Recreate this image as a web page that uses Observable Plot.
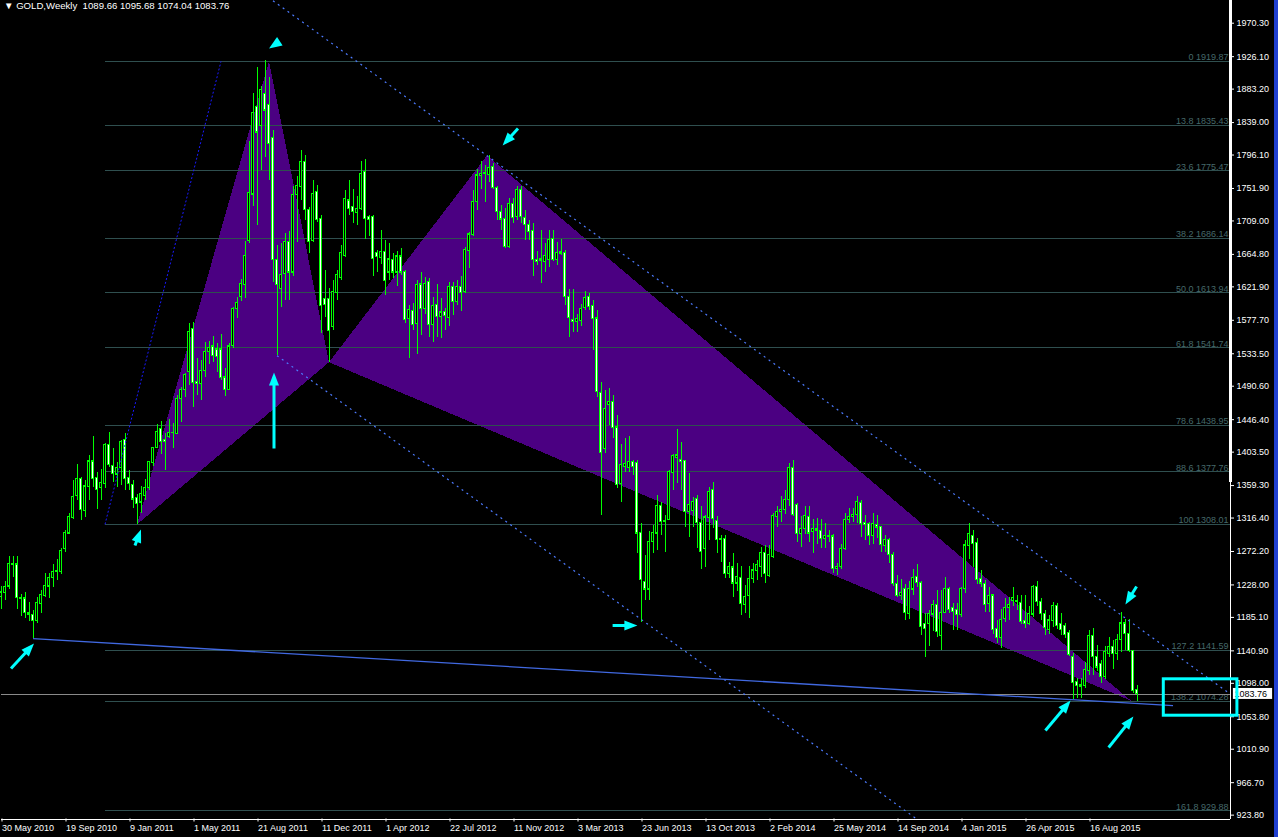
<!DOCTYPE html>
<html><head><meta charset="utf-8">
<script src="https://cdn.jsdelivr.net/npm/d3@7"></script>
<script src="https://cdn.jsdelivr.net/npm/@observablehq/plot@0.6"></script>
<style>
html,body{margin:0;padding:0;background:#000;overflow:hidden}
#wrap{width:1274px;height:837px;border-right:4px solid #1f3fd0;}
</style></head><body><div id="wrap"></div>
<script>
// ---------- data ----------
const startDate = "2010-05-30"; // bar 0 (weekly bars)
const opens = [
1212,1218,1226,1256,1255,1211,1210,1191,1188,1181,
1203,1214,1226,1237,1245,1245,1276,1296,1316,1346,
1368,1326,1358,1391,1369,1356,1362,1413,1385,1374,
1383,1419,1369,1360,1343,1337,1346,1356,1389,1409,
1434,1420,1423,1429,1428,1474,1486,1510,1566,1496,
1494,1511,1536,1543,1539,1539,1502,1486,1544,1593,
1608,1625,1682,1744,1860,1835,1877,1862,1818,1657,
1619,1639,1681,1641,1743,1754,1787,1723,1683,1747,
1712,1606,1606,1569,1614,1634,1663,1736,1727,1720,
1725,1774,1714,1714,1666,1660,1668,1641,1657,1641,
1662,1641,1580,1590,1573,1625,1593,1628,1571,1598,
1582,1589,1581,1622,1602,1622,1615,1669,1691,1734,
1769,1771,1770,1780,1753,1721,1712,1675,1731,1714,
1750,1713,1704,1696,1657,1658,1655,1657,1685,1658,
1668,1666,1609,1578,1576,1577,1594,1608,1597,1580,
1481,1408,1466,1470,1436,1361,1384,1382,1390,1389,
1296,1232,1222,1285,1296,1332,1313,1314,1376,1396,
1393,1392,1324,1326,1342,1310,1276,1317,1353,1313,
1289,1289,1243,1251,1230,1237,1201,1214,1236,1247,
1252,1270,1240,1265,1318,1324,1327,1340,1382,1333,
1295,1302,1318,1298,1300,1299,1289,1293,1292,1249,
1252,1276,1314,1318,1320,1336,1310,1309,1293,1307,
1304,1280,1287,1268,1229,1214,1222,1190,1222,1238,
1230,1176,1177,1189,1201,1160,1191,1222,1197,1195,
1188,1223,1280,1293,1283,1236,1229,1203,1214,1170,
1158,1183,1197,1207,1207,1204,1180,1177,1189,1225,
1205,1190,1168,1181,1200,1176,1174,1164,1133,1100,
1095,1094,1114,1161,1133,1123,1106,1137,1146,1137,
1155,1177,1163,1141,1089.66];
const highs = [
1226,1232,1265,1266,1265,1216,1218,1205,1194,1212,
1221,1243,1243,1255,1262,1276,1300,1322,1366,1387,
1370,1366,1399,1424,1377,1381,1415,1430,1408,1390,
1419,1428,1379,1366,1348,1358,1367,1391,1410,1440,
1444,1428,1447,1441,1478,1489,1508,1573,1575,1527,
1525,1549,1550,1556,1547,1559,1514,1547,1595,1608,
1631,1682,1814,1877,1912,1886,1921,1899,1828,1677,
1679,1692,1695,1754,1768,1802,1795,1727,1762,1756,
1716,1644,1620,1630,1644,1677,1749,1762,1751,1741,
1787,1790,1716,1716,1670,1696,1683,1679,1666,1668,
1672,1644,1597,1600,1630,1641,1634,1633,1608,1625,
1606,1593,1628,1628,1630,1635,1674,1694,1749,1777,
1787,1782,1796,1785,1754,1729,1726,1738,1738,1754,
1755,1723,1710,1705,1668,1696,1679,1696,1697,1681,
1684,1670,1619,1619,1586,1598,1616,1613,1604,1591,
1496,1485,1488,1478,1452,1414,1421,1424,1393,1393,
1309,1267,1298,1307,1346,1337,1320,1379,1401,1433,
1416,1393,1375,1344,1346,1331,1320,1357,1364,1318,
1293,1293,1258,1269,1256,1252,1227,1252,1256,1260,
1278,1280,1280,1322,1331,1345,1353,1388,1393,1335,
1318,1331,1331,1315,1316,1315,1309,1300,1295,1256,
1282,1322,1329,1329,1345,1340,1320,1311,1322,1320,
1304,1293,1289,1271,1240,1235,1229,1232,1249,1255,
1232,1190,1194,1208,1221,1221,1238,1224,1203,1203,
1225,1287,1309,1300,1289,1247,1234,1225,1216,1181,
1196,1210,1212,1224,1214,1214,1214,1199,1227,1233,
1210,1194,1188,1205,1203,1190,1177,1168,1137,1104,
1104,1126,1168,1170,1148,1128,1146,1158,1154,1163,
1191,1182,1182,1142,1095.68];
const lows = [
1196,1207,1222,1238,1196,1186,1184,1180,1157,1177,
1190,1211,1210,1225,1234,1242,1271,1295,1315,1340,
1313,1317,1340,1357,1328,1340,1356,1383,1364,1357,
1359,1353,1353,1329,1308,1322,1340,1353,1384,1408,
1401,1379,1421,1408,1428,1443,1476,1492,1462,1478,
1472,1502,1519,1522,1509,1498,1477,1485,1540,1580,
1602,1606,1679,1728,1703,1776,1793,1762,1628,1531,
1595,1604,1604,1635,1681,1736,1710,1666,1681,1707,
1560,1582,1522,1564,1604,1630,1661,1716,1705,1703,
1723,1685,1688,1635,1641,1652,1611,1630,1633,1622,
1637,1573,1527,1564,1533,1558,1585,1555,1549,1555,
1553,1564,1569,1584,1597,1589,1613,1646,1688,1723,
1751,1734,1760,1750,1710,1696,1672,1672,1706,1710,
1705,1683,1683,1635,1650,1626,1641,1648,1655,1650,
1663,1597,1555,1562,1561,1570,1590,1590,1538,1476,
1320,1402,1439,1422,1355,1337,1377,1377,1372,1269,
1179,1208,1208,1269,1274,1293,1271,1313,1353,1362,
1353,1304,1291,1304,1276,1249,1251,1287,1302,1269,
1258,1236,1236,1212,1219,1188,1190,1183,1230,1234,
1238,1230,1238,1263,1304,1311,1321,1331,1318,1284,
1278,1295,1284,1269,1281,1276,1276,1284,1243,1240,
1249,1273,1309,1310,1309,1291,1287,1280,1282,1289,
1271,1271,1256,1226,1212,1207,1181,1182,1214,1225,
1161,1132,1146,1166,1159,1141,1190,1190,1168,1168,
1185,1217,1262,1251,1229,1225,1192,1192,1163,1150,
1144,1179,1181,1199,1194,1176,1170,1174,1185,1199,
1181,1161,1163,1172,1169,1161,1157,1133,1076,1078,
1078,1091,1108,1108,1113,1098,1103,1132,1116,1128,
1139,1141,1139,1084,1074.04];
const closes = [
1218,1225,1256,1255,1211,1210,1191,1189,1181,1204,
1215,1227,1237,1245,1246,1273,1296,1318,1344,1368,
1327,1358,1391,1368,1353,1363,1413,1386,1375,1383,
1417,1368,1362,1341,1335,1348,1356,1390,1409,1430,
1417,1417,1429,1429,1474,1486,1505,1562,1495,1494,
1511,1536,1541,1531,1529,1502,1486,1543,1593,1600,
1626,1663,1746,1851,1826,1882,1855,1811,1657,1624,
1637,1681,1641,1743,1755,1787,1723,1681,1745,1710,
1597,1598,1564,1615,1637,1666,1738,1725,1721,1725,
1771,1712,1710,1659,1662,1668,1630,1658,1641,1662,
1641,1578,1591,1572,1624,1593,1626,1571,1597,1582,
1588,1583,1622,1602,1622,1614,1670,1691,1734,1769,
1771,1772,1779,1753,1721,1711,1675,1731,1713,1750,
1714,1704,1694,1657,1655,1656,1663,1684,1658,1666,
1666,1609,1581,1575,1579,1592,1607,1595,1580,1483,
1402,1461,1470,1436,1360,1386,1388,1390,1384,1296,
1234,1222,1285,1296,1332,1311,1311,1377,1398,1399,
1390,1324,1333,1337,1310,1271,1317,1351,1315,1288,
1288,1243,1252,1230,1238,1203,1212,1236,1247,1254,
1270,1243,1267,1319,1324,1327,1340,1382,1320,1295,
1302,1319,1296,1302,1302,1289,1293,1292,1249,1252,
1276,1314,1318,1320,1337,1309,1307,1293,1309,1304,
1281,1287,1268,1229,1214,1217,1191,1223,1237,1231,
1173,1170,1189,1201,1166,1191,1222,1195,1192,1188,
1223,1280,1295,1282,1234,1230,1202,1213,1168,1158,
1182,1198,1202,1211,1205,1179,1177,1189,1225,1205,
1190,1171,1181,1200,1174,1168,1162,1135,1098,1095,
1093,1115,1161,1133,1119,1107,1139,1146,1137,1155,
1177,1163,1141,1088,1083.76];

const tickLabels = ["30 May 2010","19 Sep 2010","9 Jan 2011","1 May 2011","21 Aug 2011","11 Dec 2011",
"1 Apr 2012","22 Jul 2012","11 Nov 2012","3 Mar 2013","23 Jun 2013","13 Oct 2013","2 Feb 2014",
"25 May 2014","14 Sep 2014","4 Jan 2015","26 Apr 2015","16 Aug 2015"];
const priceTicks = [1970.30,1926.10,1883.20,1839.00,1796.10,1751.90,1709.00,1664.80,1621.90,1577.70,
1533.50,1490.60,1446.40,1403.50,1359.30,1316.40,1272.20,1228.00,1185.10,1140.90,1098.00,1053.80,
1010.90,966.70,923.80];

const fibRatios = ["0","13.8","23.6","38.2","50.0","61.8","78.6","88.6","100","127.2","138.2","161.8"];
const fibPrices = [1919.87,1835.43,1775.47,1686.14,1613.94,1541.74,1438.95,1377.76,1308.01,1141.59,1074.28,929.88];
const fibStartBar = 26;
const fibAnchorBars = [26, 55];
const fibAnchorPrices = [1308.01, 1919.87];

// harmonic pattern X A B C D
const patternBars = [34, 67, 82, 121.5, 282.5];
const patternPrices = [1308.01, 1919.87, 1522.3, 1795.5, 1075];

const upperChannelBars = [68, 307];
const upperChannelPrices = [2000, 1085];
const lowerChannelBars = [69, 229];
const lowerChannelPrices = [1531, 918.4];
const supportBars = [8, 293];
const supportPrices = [1157, 1068.5];
const bidPrice = 1083.76;

const arrowFromBar   = [2.5, 33.5, 70.75, 129.25, 68.25, 152.9, 261.1, 276.9, 283.9];
const arrowFromPrice = [1117.6, 1280.2, 1950.1, 1831.2, 1408.3, 1174.4, 1035.7, 1013.2, 1226.0];
const arrowToBar     = [8.25, 35, 67, 125.4, 68.25, 159.1, 267.4, 283.1, 281.1];
const arrowToPrice   = [1150.6, 1301.3, 1936.9, 1808.7, 1508.7, 1174.4, 1075.3, 1054.2, 1202.2];
const arrowHasShaft  = [true, true, false, true, true, true, true, true, true];

const boxBars = [290.7, 309.1];
const boxPrices = [1055.2, 1103.3];
const bidBoxBars = [308.1, 317.9];
const bidBoxPrices = [1076.7, 1091.2];
const titleText = "\u25BC GOLD,Weekly  1089.66 1095.68 1074.04 1083.76";

// ---------- build ----------
const W = 1274, H = 837, mL = 0.5, mR = 44, mT = 0, mB = 18.5;
const xDomain = [0, 307.375];
const yDomain = [918.7, 2000.3];
const parse = d3.utcParse("%d %b %Y");
const t0 = d3.utcParse("%Y-%m-%d")(startDate);
const ticks = tickLabels.map(s => ({bar: Math.round((parse(s) - t0) / (7 * 864e5)), label: s}));
const labelByBar = new Map(ticks.map(d => [d.bar, d.label]));

const bars = opens.map((o, i) => ({i, o, h: highs[i], l: lows[i], c: closes[i]}));
const fibs = fibPrices.map((p, k) => ({price: p, ratio: fibRatios[k]}));
const pt = k => ({bar: patternBars[k], price: patternPrices[k]});
const triRows = [
  ...[0,1,2].map(k => ({tri: 1, ...pt(k)})),
  ...[2,3,4].map(k => ({tri: 2, ...pt(k)}))
];

const xs = Plot.scale({x: {domain: xDomain, range: [mL, W - mR]}});
const ys = Plot.scale({y: {domain: yDomain, range: [H - mB, mT]}});
const HEAD = 13;
const arrows = arrowFromBar.map((fb, k) => {
  const fp = arrowFromPrice[k], tb = arrowToBar[k], tp = arrowToPrice[k];
  const dx = xs.apply(tb) - xs.apply(fb), dy = ys.apply(tp) - ys.apply(fp);
  const len = Math.hypot(dx, dy);
  const f = Math.max(0, (len - HEAD * 0.7) / len);
  return {fb, fp, tb, tp, nb: fb + f * (tb - fb), np: fp + f * (tp - fp),
          angle: Math.atan2(dx, -dy) * 180 / Math.PI, shaft: arrowHasShaft[k]};
});
const headSymbol = {draw(ctx) { ctx.moveTo(0, 0); ctx.lineTo(5, HEAD); ctx.lineTo(-5, HEAD); ctx.closePath(); }};

const seg = (b, p) => [{x1: b[0], y1: p[0], x2: b[1], y2: p[1]}];
const LIME = "#00ff00", CYAN = "#00ffff";
const bodyLo = d => Math.min(d.o, d.c), bodyHi = d => Math.max(d.o, d.c);

const chart = Plot.plot({
  width: W, height: H,
  marginLeft: mL, marginRight: mR, marginTop: mT, marginBottom: mB,
  x: {domain: xDomain, axis: null},
  y: {domain: yDomain, axis: null},
  color: {type: "identity"},
  style: {background: "#000", color: "#fff", fontFamily: "'Liberation Sans', Arial, sans-serif", fontSize: "9px", overflow: "visible"},
  marks: [
    Plot.line(triRows, {x: "bar", y: "price", z: "tri", fill: "#4b0082", stroke: "none", shapeRendering: "crispEdges"}),
    Plot.ruleY(fibs, {y: "price", x1: fibStartBar, x2: xDomain[1], stroke: "#2f4f4f", shapeRendering: "crispEdges"}),
    Plot.text(fibs, {x: xDomain[1], y: "price", text: d => `${d.ratio} ${d.price.toFixed(2)}`, textAnchor: "end", lineAnchor: "bottom", dx: -2, dy: -1, fill: "#46696a", fontSize: 9}),
    Plot.ruleY([bidPrice], {stroke: "#8a8a8a", shapeRendering: "crispEdges"}),
    // candles: wick, lime outer body, inner fill (white = bear, black = bull)
    Plot.ruleX(bars, {x: "i", y1: "l", y2: "h", stroke: LIME, strokeWidth: 1, shapeRendering: "crispEdges"}),
    Plot.rect(bars, {x1: d => d.i - 0.375, x2: d => d.i + 0.375, y1: bodyLo, y2: bodyHi,
      insetTop: -0.6, insetBottom: -0.6, fill: LIME, shapeRendering: "crispEdges"}),
    Plot.rect(bars, {x1: d => d.i - 0.125, x2: d => d.i + 0.125, y1: bodyLo, y2: bodyHi,
      insetTop: 0.5, insetBottom: 0.5,
      fill: d => d.c >= d.o ? "#000000" : "#ffffff", shapeRendering: "crispEdges"}),
    Plot.link(seg(fibAnchorBars, fibAnchorPrices), {x1: "x1", y1: "y1", x2: "x2", y2: "y2", stroke: "#1a1aff", strokeDasharray: "2 2"}),
    Plot.link(seg(upperChannelBars, upperChannelPrices), {x1: "x1", y1: "y1", x2: "x2", y2: "y2", stroke: "#4d7bff", strokeWidth: 1.2, strokeDasharray: "2 4"}),
    Plot.link(seg(lowerChannelBars, lowerChannelPrices), {x1: "x1", y1: "y1", x2: "x2", y2: "y2", stroke: "#4d7bff", strokeWidth: 1.2, strokeDasharray: "2 4"}),
    Plot.link(seg(supportBars, supportPrices), {x1: "x1", y1: "y1", x2: "x2", y2: "y2", stroke: "#4169e1", strokeWidth: 1.3}),
    Plot.ruleY([yDomain[0]], {stroke: "#fff", shapeRendering: "crispEdges"}),
    Plot.ruleX([xDomain[1]], {stroke: "#fff", shapeRendering: "crispEdges"}),
    Plot.ruleX([xDomain[1]], {y1: 1363.4, y2: yDomain[1], stroke: "#fff", strokeWidth: 3}),
    Plot.axisX(ticks.map(d => d.bar), {anchor: "bottom", tickFormat: d => labelByBar.get(d), textAnchor: "start", dx: 1, tickSize: 3, tickPadding: 3, color: "#fff", fontSize: 9, label: null}),
    Plot.axisY(priceTicks, {anchor: "right", tickFormat: d => d.toFixed(2), tickSize: 3, tickPadding: 3, color: "#fff", fontSize: 9, label: null}),
    Plot.link(arrows.filter(d => d.shaft), {x1: "fb", y1: "fp", x2: "nb", y2: "np", stroke: CYAN, strokeWidth: 3}),
    Plot.dot(arrows, {x: "tb", y: "tp", rotate: "angle", symbol: headSymbol, fill: CYAN, r: 6}),
    Plot.rect([bidPrice], {x1: bidBoxBars[0], x2: bidBoxBars[1], y1: bidBoxPrices[0], y2: bidBoxPrices[1], fill: "#fff"}),
    Plot.text([bidPrice], {x: bidBoxBars[0], y: d => d, text: d => d.toFixed(2), textAnchor: "start", dx: 1, fill: "#000", fontSize: 9}),
    Plot.rect([0], {x1: boxBars[0], x2: boxBars[1], y1: boxPrices[0], y2: boxPrices[1], fill: "none", stroke: CYAN, strokeWidth: 3}),
    Plot.text([titleText], {frameAnchor: "top-left", text: d => d, dx: 3, dy: 2, fill: "#fff", fontSize: 9.6, textAnchor: "start", lineAnchor: "top"})
  ]
});
document.getElementById("wrap").appendChild(chart);
</script></body></html>
